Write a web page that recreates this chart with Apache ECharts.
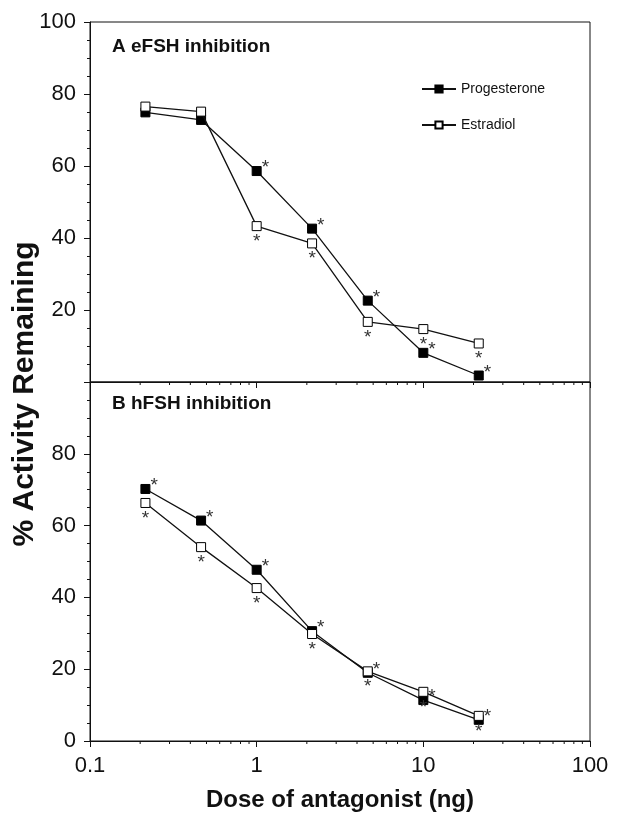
<!DOCTYPE html>
<html><head><meta charset="utf-8">
<script src="https://cdn.jsdelivr.net/npm/echarts@6/dist/echarts.min.js"></script>
<style>html,body{margin:0;padding:0;background:#fff}#c{width:621px;height:818px}</style>
</head><body><div id="c"></div>
<script>
// ---- data ----
const doses = [0.215, 0.464, 1, 2.15, 4.64, 10, 21.5];
const progA = [74.9, 72.8, 58.6, 42.6, 22.6, 8.1, 1.8];
const estrA = [76.5, 75.1, 43.3, 38.5, 16.7, 14.7, 10.7];
const progB = [70.2, 61.4, 47.7, 30.6, 19.0, 11.4, 5.9];
const estrB = [66.3, 54.0, 42.6, 29.8, 19.4, 13.7, 7.0];
const sigProgA = [0, 0, 1, 1, 1, 1, 1];
const sigEstrA = [0, 0, 1, 1, 1, 1, 1];
const sigProgB = [1, 1, 1, 1, 1, 1, 1];
const sigEstrB = [1, 1, 1, 1, 1, 1, 1];
const yLabelsA = [20, 40, 60, 80, 100];
const yLabelsB = [0, 20, 40, 60, 80];
const xLabels = [0.1, 1, 10, 100];
const minorX = [0.2, 0.3, 0.4, 0.5, 0.6, 0.7, 0.8, 0.9, 2, 3, 4, 5, 6, 7, 8, 9, 20, 30, 40, 50, 60, 70, 80, 90];
const panelTitles = ['A eFSH inhibition', 'B hFSH inhibition'];
const yTitle = '% Activity Remaining';
const xTitle = 'Dose of antagonist (ng)';

const FONT = '"Liberation Sans", Arial, Helvetica, sans-serif';
const INK = '#111';

function pts(vals, sig) {
  return doses.map((d, i) => ({ value: [d, vals[i]], label: { show: !!sig[i] } }));
}

function yAxisFor(idx, labels) {
  return {
    type: 'value', gridIndex: idx, min: 0, max: 100, interval: 20,
    axisLine: { show: true, onZero: false, lineStyle: { color: INK, width: 1 } },
    axisTick: { show: true, inside: false, length: 6, lineStyle: { color: INK } },
    minorTick: { show: true, splitNumber: 4, length: 3, lineStyle: { color: INK } },
    splitLine: { show: false }, minorSplitLine: { show: false },
    axisLabel: {
      margin: 14, fontSize: 22, color: INK, fontFamily: FONT,
      formatter: v => labels.indexOf(v) >= 0 ? String(v) : ''
    }
  };
}
function xAxisFor(idx, showLabels) {
  return {
    type: 'log', logBase: 10, gridIndex: idx, min: 0.1, max: 100,
    axisLine: { show: true, onZero: false, lineStyle: { color: INK, width: 1 } },
    axisTick: { show: true, inside: false, length: 6, lineStyle: { color: INK } },
    splitLine: { show: false },
    axisLabel: {
      show: showLabels, margin: 14, fontSize: 22, color: INK, fontFamily: FONT,
      formatter: v => { const r = xLabels.find(t => Math.abs(t - v) / t < 1e-6); return r === undefined ? '' : String(r); }
    }
  };
}
const progLabel = { show: false, formatter: '*', position: 'right', distance: 0, offset: [0, -3], fontSize: 19, color: '#333', fontFamily: FONT };
const estrLabel = { show: false, formatter: '*', position: 'bottom', distance: 0, offset: [0, 1], fontSize: 19, color: '#333', fontFamily: FONT };

function lineSeries(name, idx, vals, sig, filled, z) {
  return {
    name, type: 'line', xAxisIndex: idx, yAxisIndex: idx, z,
    data: pts(vals, sig),
    symbol: 'rect', symbolSize: 9,
    lineStyle: { color: INK, width: 1.3 },
    itemStyle: filled ? { color: '#000', borderColor: '#000', borderWidth: 1 } : { color: '#fff', borderColor: '#000', borderWidth: 1 },
    label: filled ? progLabel : estrLabel,
    emphasis: { disabled: true }, animation: false
  };
}
function minorSeries(idx) {
  return {
    type: 'custom', xAxisIndex: idx, yAxisIndex: idx, silent: true, z: 1,
    data: minorX.map(v => [v, 0]),
    renderItem: (p, api) => {
      const c = api.coord([api.value(0), 0]);
      return { type: 'line', shape: { x1: c[0], y1: c[1], x2: c[0], y2: c[1] + 3 }, style: { stroke: INK, lineWidth: 1 } };
    }
  };
}

const chart = echarts.init(document.getElementById('c'), null, { renderer: 'canvas' });
chart.setOption({
  backgroundColor: '#fff',
  animation: false,
  textStyle: { fontFamily: FONT },
  grid: [
    { left: 90, right: 31, top: 22, height: 360, show: true, borderColor: INK, borderWidth: 1, backgroundColor: 'transparent' },
    { left: 90, right: 31, top: 382, height: 359, show: true, borderColor: INK, borderWidth: 1, backgroundColor: 'transparent' }
  ],
  xAxis: [xAxisFor(0, false), xAxisFor(1, true)],
  yAxis: [yAxisFor(0, yLabelsA), yAxisFor(1, yLabelsB)],
  legend: {
    data: ['Progesterone', 'Estradiol'], orient: 'vertical', left: 421, top: 82, padding: 0,
    itemWidth: 34, itemHeight: 9, itemGap: 22,
    textStyle: { fontSize: 14, color: INK, fontFamily: FONT }, selectedMode: false
  },
  series: [
    lineSeries('Progesterone', 0, progA, sigProgA, true, 3),
    lineSeries('Estradiol', 0, estrA, sigEstrA, false, 4),
    lineSeries('Progesterone', 1, progB, sigProgB, true, 3),
    lineSeries('Estradiol', 1, estrB, sigEstrB, false, 4),
    minorSeries(0), minorSeries(1)
  ],
  graphic: [
    { type: 'text', x: 112, y: 47, style: { text: panelTitles[0], fill: INK, font: 'bold 19px ' + FONT, verticalAlign: 'middle', align: 'left' } },
    { type: 'text', x: 112, y: 404, style: { text: panelTitles[1], fill: INK, font: 'bold 19px ' + FONT, verticalAlign: 'middle', align: 'left' } },
    { type: 'text', x: 25, y: 394, rotation: Math.PI / 2, style: { text: yTitle, fill: INK, font: 'bold 30px ' + FONT, verticalAlign: 'middle', align: 'center' } },
    { type: 'text', x: 340, y: 800, style: { text: xTitle, fill: INK, font: 'bold 24px ' + FONT, verticalAlign: 'middle', align: 'center' } }
  ]
});
</script></body></html>
